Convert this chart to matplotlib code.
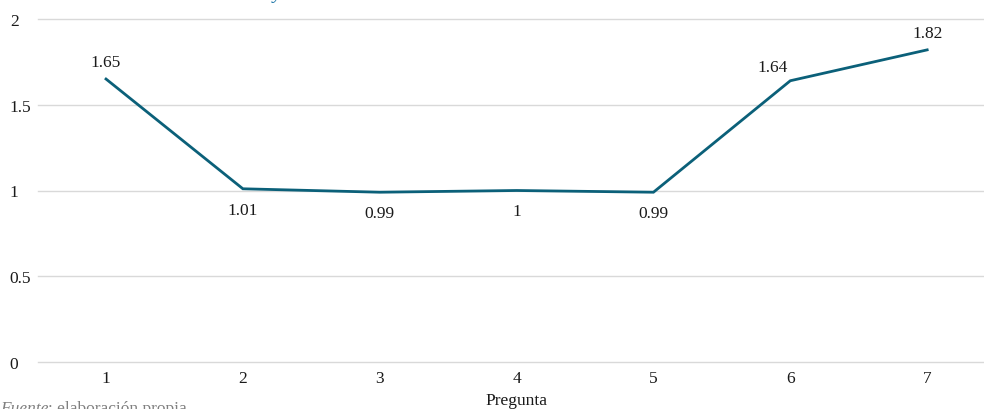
import matplotlib
matplotlib.use("Agg")
import matplotlib.pyplot as plt

plt.rcParams['font.family'] = ['Liberation Serif', 'DejaVu Serif']

preguntas = [1, 2, 3, 4, 5, 6, 7]
valores = [1.65, 1.01, 0.99, 1.0, 0.99, 1.64, 1.82]
etiquetas = ["1.65", "1.01", "0.99", "1", "0.99", "1.64", "1.82"]
# where each data label sits relative to its point
posiciones = ["above", "below", "below", "below", "below", "left", "above"]
y_ticks = [0, 0.5, 1, 1.5, 2]
y_labels = ["0", "0.5", "1", "1.5", "2"]

line_col = "#0B6079"
txt_col = "#1a1a1a"
fs = 12.5

fig = plt.figure(figsize=(9.84, 4.10), dpi=100)
ax = fig.add_axes([37.6/984, 47/410, 958/984, 343/410])

ax.plot(preguntas, valores, color=line_col, lw=2, solid_joinstyle='miter')

for x, v, s, p in zip(preguntas, valores, etiquetas, posiciones):
    if p == "above":
        off = (0, 12)
    elif p == "below":
        off = (0, -15)
    else:
        off = (-13, 10)
    ax.annotate(s, (x, v), xytext=off, textcoords='offset points',
                ha='center', va='center', fontsize=fs, color=txt_col)

ax.set_xlim(0.5, 7.5)
ax.set_ylim(0, 2)
ax.set_xticks(preguntas)
ax.set_xticklabels([str(p) for p in preguntas], fontsize=fs, color=txt_col)
ax.set_yticks(y_ticks)
ax.set_yticklabels(y_labels, fontsize=fs, color=txt_col)
for lab in ax.get_yticklabels():
    lab.set_horizontalalignment('left')
ax.tick_params(axis='y', length=0, pad=20)
ax.tick_params(axis='x', length=0, pad=6)
ax.yaxis.grid(True, color='#d9d9d9', lw=1)
for gl in ax.yaxis.get_gridlines():
    gl.set_clip_on(False)
ax.set_axisbelow(True)
for sp in ax.spines.values():
    sp.set_visible(False)
ax.set_xlabel("Pregunta", fontsize=fs, color=txt_col, labelpad=4)

# bits of surrounding document text cut by the crop
t1 = fig.text(0.0, -3/410, "Fuente", fontsize=fs, style='italic', color='#808080',
              ha='left', va='baseline')
fig.canvas.draw()
bb = t1.get_window_extent()
fig.text(bb.x1/984, -3/410, ": elaboración propia", fontsize=fs, color='#808080',
         ha='left', va='baseline')
fig.text(273/984, 1 + 1/410, "y", fontsize=14, style='italic', color='#1F77A8',
         ha='left', va='baseline')

fig.savefig("out.png", dpi=100)
